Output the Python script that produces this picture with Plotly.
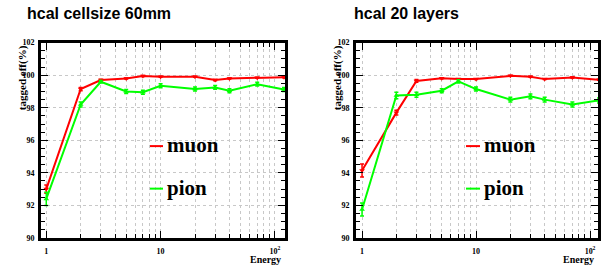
import plotly.graph_objects as go

energy = [1, 2, 3, 5, 7, 10, 20, 30, 40, 70, 120]

# left panel: hcal cellsize 60mm
left_muon = [93.0, 99.15, 99.7, 99.8, 99.95, 99.9, 99.9, 99.7, 99.8, 99.85, 99.88]
left_muon_err = [0.25, 0.1, 0.05, 0.03, 0.03, 0.03, 0.03, 0.04, 0.03, 0.03, 0.03]
left_pion = [92.4, 98.2, 99.6, 99.0, 98.95, 99.35, 99.15, 99.25, 99.05, 99.45, 99.12]
left_pion_err = [0.4, 0.15, 0.08, 0.12, 0.12, 0.12, 0.12, 0.12, 0.12, 0.12, 0.12]

# right panel: hcal 20 layers
right_muon = [94.15, 97.7, 99.65, 99.82, 99.76, 99.76, 99.96, 99.9, 99.76, 99.86, 99.72]
right_muon_err = [0.4, 0.15, 0.08, 0.03, 0.03, 0.03, 0.03, 0.03, 0.03, 0.03, 0.03]
right_pion = [91.75, 98.75, 98.8, 99.05, 99.62, 99.15, 98.5, 98.7, 98.5, 98.2, 98.45]
right_pion_err = [0.4, 0.2, 0.15, 0.12, 0.1, 0.12, 0.15, 0.15, 0.15, 0.15, 0.15]

titles = ["hcal cellsize 60mm", "hcal 20 layers"]
series_names = ["muon", "pion"]
y_ticks = [90, 92, 94, 96, 98, 100, 102]
x_major = [1, 10, 100]
x_major_labels = ["1", "10", "10<sup>2</sup>"]

RED = "#ff0000"
GREEN = "#00ff00"
SERIF = "Liberation Serif, Times New Roman, serif"
SANS = "Liberation Sans, Arial, sans-serif"

W, H = 606, 270
panels = [
    dict(x0=41, x1=285, xr=[-0.046, 2.088]),
    dict(x0=356, x1=598, xr=[-0.053, 2.07]),
]
top, bottom = 40, 242

fig = go.Figure()

data = [
    (left_muon, left_muon_err, left_pion, left_pion_err),
    (right_muon, right_muon_err, right_pion, right_pion_err),
]

x_minor_vals = []
for dec in [1, 10, 100]:
    for m in range(2, 10):
        v = dec * m
        if v <= 130:
            x_minor_vals.append(v)

for i, (mu, mue, pi, pie) in enumerate(data):
    xa = "x" if i == 0 else "x2"
    ya = "y" if i == 0 else "y2"
    fig.add_trace(go.Scatter(
        x=energy, y=mu, xaxis=xa, yaxis=ya, mode="lines+markers",
        line=dict(color=RED, width=2),
        marker=dict(symbol="triangle-down", size=5, color=RED),
        error_y=dict(type="data", array=mue, color=RED, thickness=1.5, width=2),
        showlegend=False, name=series_names[0], cliponaxis=True))
    fig.add_trace(go.Scatter(
        x=energy, y=pi, xaxis=xa, yaxis=ya, mode="lines+markers",
        line=dict(color=GREEN, width=2),
        marker=dict(symbol="triangle-up", size=5, color=GREEN),
        error_y=dict(type="data", array=pie, color=GREEN, thickness=1.5, width=2),
        showlegend=False, name=series_names[1], cliponaxis=True))

    p = panels[i]
    xkey = "xaxis" if i == 0 else "xaxis2"
    ykey = "yaxis" if i == 0 else "yaxis2"
    fig.layout[xkey] = dict(
        type="log", range=p["xr"], domain=[p["x0"] / W, p["x1"] / W],
        anchor=ya, tickmode="array", tickvals=x_major, ticktext=x_major_labels,
        ticks="inside", ticklen=7, tickwidth=1, tickcolor="black",
        minor=dict(tickmode="array", tickvals=x_minor_vals, ticks="inside",
                   ticklen=4, tickcolor="black", showgrid=True,
                   gridcolor="#c8c8c8", griddash="dot", gridwidth=1),
        showline=True, linewidth=3, linecolor="black", mirror="ticks",
        showgrid=True, gridcolor="#c8c8c8", griddash="dot", gridwidth=1,
        tickfont=dict(family=SERIF, size=8, color="black", weight="bold"),
        ticklabelstandoff=3, zeroline=False)
    fig.layout[ykey] = dict(
        range=[90, 102], domain=[1 - bottom / H, 1 - top / H],
        anchor=xa, tickmode="array", tickvals=y_ticks,
        ticktext=[str(v) for v in y_ticks],
        ticks="inside", ticklen=7, tickwidth=1, tickcolor="black",
        minor=dict(dtick=0.5, ticks="inside", ticklen=4, tickcolor="black", showgrid=False),
        showline=True, linewidth=3, linecolor="black", mirror="ticks",
        showgrid=True, gridcolor="#c8c8c8", griddash="dot", gridwidth=1,
        tickfont=dict(family=SERIF, size=8, color="black", weight="bold"),
        ticklabelstandoff=2, zeroline=False)

annotations = []
shapes = []
title_x = [25, 352]
legend_line_x = [(150, 163), (466, 480)]
legend_y = [147, 191]
legend_colors = [RED, GREEN]
for i in range(2):
    annotations.append(dict(
        text=titles[i], x=title_x[i] / W, y=1 - 10 / H, xref="paper", yref="paper",
        xanchor="left", yanchor="middle", showarrow=False,
        font=dict(family=SANS, size=16, color="black", weight="bold")))
    p = panels[i]
    annotations.append(dict(
        text="<b>Energy</b>", x=(p["x1"] - 2) / W, y=1 - 264 / H,
        xref="paper", yref="paper", xanchor="right", yanchor="middle",
        showarrow=False, font=dict(family=SERIF, size=10, color="black")))
    annotations.append(dict(
        text="<b>tagged eff(%)</b>", x=(p["x0"] - 19) / W, y=1 - 41 / H,
        xref="paper", yref="paper", xanchor="center", yanchor="top",
        textangle=-90, showarrow=False,
        font=dict(family=SERIF, size=11, color="black")))
    for j in range(2):
        lx0, lx1 = legend_line_x[i]
        shapes.append(dict(
            type="line", xref="paper", yref="paper",
            x0=lx0 / W, x1=lx1 / W, y0=1 - legend_y[j] / H, y1=1 - legend_y[j] / H,
            line=dict(color=legend_colors[j], width=2)))
        annotations.append(dict(
            text="<b>" + series_names[j] + "</b>", x=(lx1 + 2) / W,
            y=1 - (legend_y[j] - 1) / H, xref="paper", yref="paper",
            xanchor="left", yanchor="middle", showarrow=False,
            font=dict(family=SERIF, size=21, color="black")))

fig.update_layout(
    width=W, height=H, margin=dict(l=0, r=0, t=0, b=0),
    paper_bgcolor="white", plot_bgcolor="white",
    annotations=annotations, shapes=shapes, showlegend=False)

fig.write_html("out.html", config={"displayModeBar": False},
               post_script="document.body.style.margin='0';")
